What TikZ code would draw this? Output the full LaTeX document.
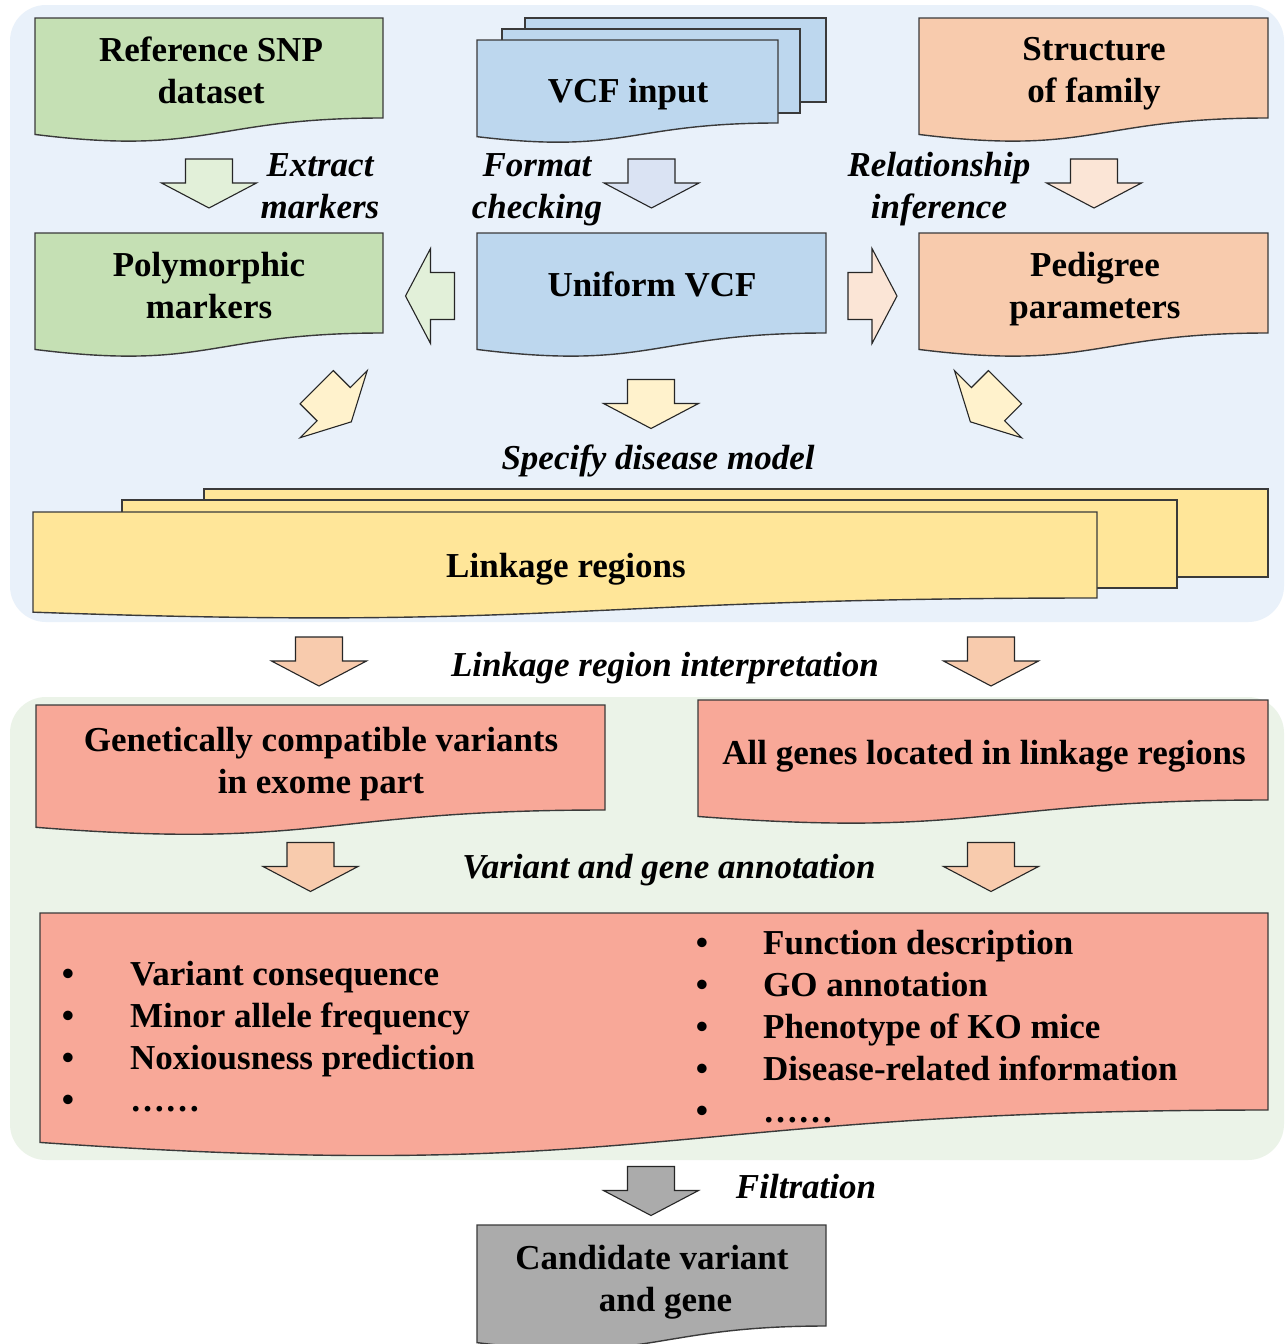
\documentclass[tikz,border=0pt]{standalone}
\usepackage{fontspec}
\setmainfont{Liberation Serif}
\usetikzlibrary{calc}
\pgfdeclarelayer{bg}
\pgfdeclarelayer{shp}
\pgfsetlayers{bg,shp,main}
\definecolor{bgblue}{HTML}{E9F1FA}
\definecolor{bggreen}{HTML}{EBF3E8}
\definecolor{boxgreen}{HTML}{C5E0B4}
\definecolor{boxblue}{HTML}{BDD7EE}
\definecolor{boxorange}{HTML}{F8CBAD}
\definecolor{boxyellow}{HTML}{FFE699}
\definecolor{boxsalmon}{HTML}{F8A898}
\definecolor{boxgrey}{HTML}{ABABAB}
\definecolor{arrgreen}{HTML}{E2F0D9}
\definecolor{arrblue}{HTML}{DAE3F3}
\definecolor{arrorange}{HTML}{FBE5D6}
\definecolor{arryellow}{HTML}{FFF2CC}
\definecolor{arrpeach}{HTML}{F8CBAD}
\definecolor{linec}{HTML}{3A3A3A}
\tikzset{
  docn/.style={rectangle, inner sep=0pt, outer sep=0pt, draw=none},
  boxline/.style={draw=linec, line width=1.4pt, line join=miter},
  arrline/.style={draw=black!85, line width=1.1pt, line join=miter},
  txt/.style={font=\fontsize{35}{42}\selectfont\bfseries, align=center, inner sep=0pt},
  lbl/.style={font=\fontsize{35}{42}\selectfont\bfseries\itshape, align=center, inner sep=0pt},
  itm/.style={font=\fontsize{35}{42}\selectfont\bfseries, inner sep=0pt, anchor=base west},
  bul/.style={font=\fontsize{35}{42}\selectfont\bfseries, inner sep=0pt, anchor=base},
}
% document-shaped box: name, x1, y1, x2, y2 (right bottom), fill
\newcommand\docshape[6]{%
  \node[docn, minimum width={(#4-#2)*1pt}, minimum height={(#5-#3)*1pt}] (#1) at ({(#2+#4)/2},{(#3+#5)/2}) {};
  \begin{pgfonlayer}{shp}
  \draw[boxline, fill=#6] (#1.north west) -- (#1.north east) -- (#1.south east)
    .. controls (#1.south) and ($(#1.south)!-0.381!(#1.north)$) ..
    ($(#1.south west)!-0.1646!(#1.north west)$) -- cycle;
  \end{pgfonlayer}}
% block arrow: cx, cy, rotation, fill
\newcommand\blockarrow[4]{%
  \begin{pgfonlayer}{shp}
  \begin{scope}[shift={(#1,#2)}, rotate=#3]
  \draw[arrline, fill=#4] (-23.5,-24.5) -- (23.5,-24.5) -- (23.5,-0.5) -- (47.5,-0.5)
    -- (0,24.5) -- (-47.5,-0.5) -- (-23.5,-0.5) -- cycle;
  \end{scope}
  \end{pgfonlayer}}
\begin{document}
\begin{tikzpicture}[x=1pt, y=-1pt]
\useasboundingbox (0,0) rectangle (1285,1344);
\begin{pgfonlayer}{bg}
\fill[white] (0,0) rectangle (1285,1344);
\fill[bgblue, rounded corners=36pt] (10,5) rectangle (1284,622);
\fill[bggreen, rounded corners=36pt] (10,697) rectangle (1284,1160);
\end{pgfonlayer}

% top row
\docshape{ref}{35}{18}{383}{118}{boxgreen}
\node[txt] (ref-t) at (211,70) {Reference SNP\\dataset};

\begin{pgfonlayer}{shp}
\draw[boxline, fill=boxblue] (525,18) rectangle (826,102);
\draw[boxline, fill=boxblue] (502,29) rectangle (800,113);
\end{pgfonlayer}
\docshape{vcf}{477}{40}{778}{123}{boxblue}
\node[txt] (vcf-t) at (628,94) {VCF input};

\docshape{fam}{919}{18}{1268}{118}{boxorange}
\node[txt] (fam-t) at (1094,73.5) {Structure\\of family};

% second row
\docshape{poly}{35}{233}{383}{333}{boxgreen}
\node[txt] (poly-t) at (209,286) {Polymorphic\\markers};
\docshape{uni}{477}{233}{826}{333}{boxblue}
\node[txt] (uni-t) at (652,284) {Uniform VCF};
\docshape{ped}{919}{233}{1268}{333}{boxorange}
\node[txt] (ped-t) at (1095,289) {Pedigree\\parameters};

% arrows top
\blockarrow{209}{183.5}{0}{arrgreen}
\blockarrow{651.5}{183.5}{0}{arrblue}
\blockarrow{1094}{183.5}{0}{arrorange}
\node[lbl] (l-extract) at (320,186) {Extract\\markers};
\node[lbl] (l-format) at (537,189.5) {Format\\checking};
\node[lbl] (l-rel) at (939,189) {Relationship\\inference};
\blockarrow{430}{296}{-90}{arrgreen}
\blockarrow{872.5}{296}{90}{arrorange}

% arrows to linkage
\blockarrow{334}{404.5}{45}{arryellow}
\blockarrow{651}{404}{0}{arryellow}
\blockarrow{987.7}{404.5}{-45}{arryellow}
\node[lbl] (l-spec) at (658,461) {Specify disease model};

% linkage regions
\begin{pgfonlayer}{shp}
\draw[boxline, fill=boxyellow] (204,489) rectangle (1268,577);
\draw[boxline, fill=boxyellow] (122,500) rectangle (1177,588);
\end{pgfonlayer}
\docshape{link}{33}{512}{1097}{598}{boxyellow}
\node[txt] (link-t) at (566,569) {Linkage regions};

% interpretation
\blockarrow{319}{661.5}{0}{arrpeach}
\blockarrow{991}{661.5}{0}{arrpeach}
\node[lbl] (l-interp) at (665,668) {Linkage region interpretation};

\docshape{gcv}{36}{705}{605}{810}{boxsalmon}
\node[txt] (gcv-t) at (321,764) {Genetically compatible variants\\in exome part};
\docshape{genes}{698}{700}{1268}{800}{boxsalmon}
\node[txt] (genes-t) at (984,756) {All genes located in linkage regions};

\blockarrow{310.5}{867}{0}{arrpeach}
\blockarrow{991}{867}{0}{arrpeach}
\node[lbl] (l-annot) at (669,870) {Variant and gene annotation};

% annotation box
\docshape{ann}{40}{913}{1268}{1110}{boxsalmon}
\node[bul] (lb1) at (68,985) {•};
\node[bul] (lb2) at (68,1027) {•};
\node[bul] (lb3) at (68,1069) {•};
\node[bul] (lb4) at (68,1111) {•};
\node[itm] (li1) at (130,985) {Variant consequence};
\node[itm] (li2) at (130,1027) {Minor allele frequency};
\node[itm] (li3) at (130,1069) {Noxiousness prediction};
\node[itm] (li4) at (130,1111) {……};
\node[bul] (rb1) at (702,954) {•};
\node[bul] (rb2) at (702,996) {•};
\node[bul] (rb3) at (702,1038) {•};
\node[bul] (rb4) at (702,1080) {•};
\node[bul] (rb5) at (702,1122) {•};
\node[itm] (ri1) at (763,954) {Function description};
\node[itm] (ri2) at (763,996) {GO annotation};
\node[itm] (ri3) at (763,1038) {Phenotype of KO mice};
\node[itm] (ri4) at (763,1080) {Disease-related information};
\node[itm] (ri5) at (763,1122) {……};

% filtration
\blockarrow{651}{1191}{0}{boxgrey}
\node[lbl] (l-filt) at (806,1187) {Filtration};
\docshape{cand}{477}{1225}{826}{1326}{boxgrey}
\node[txt] (cand-t) at (652,1282) {Candidate variant\\\hspace*{27pt}and gene};
\end{tikzpicture}
\end{document}
